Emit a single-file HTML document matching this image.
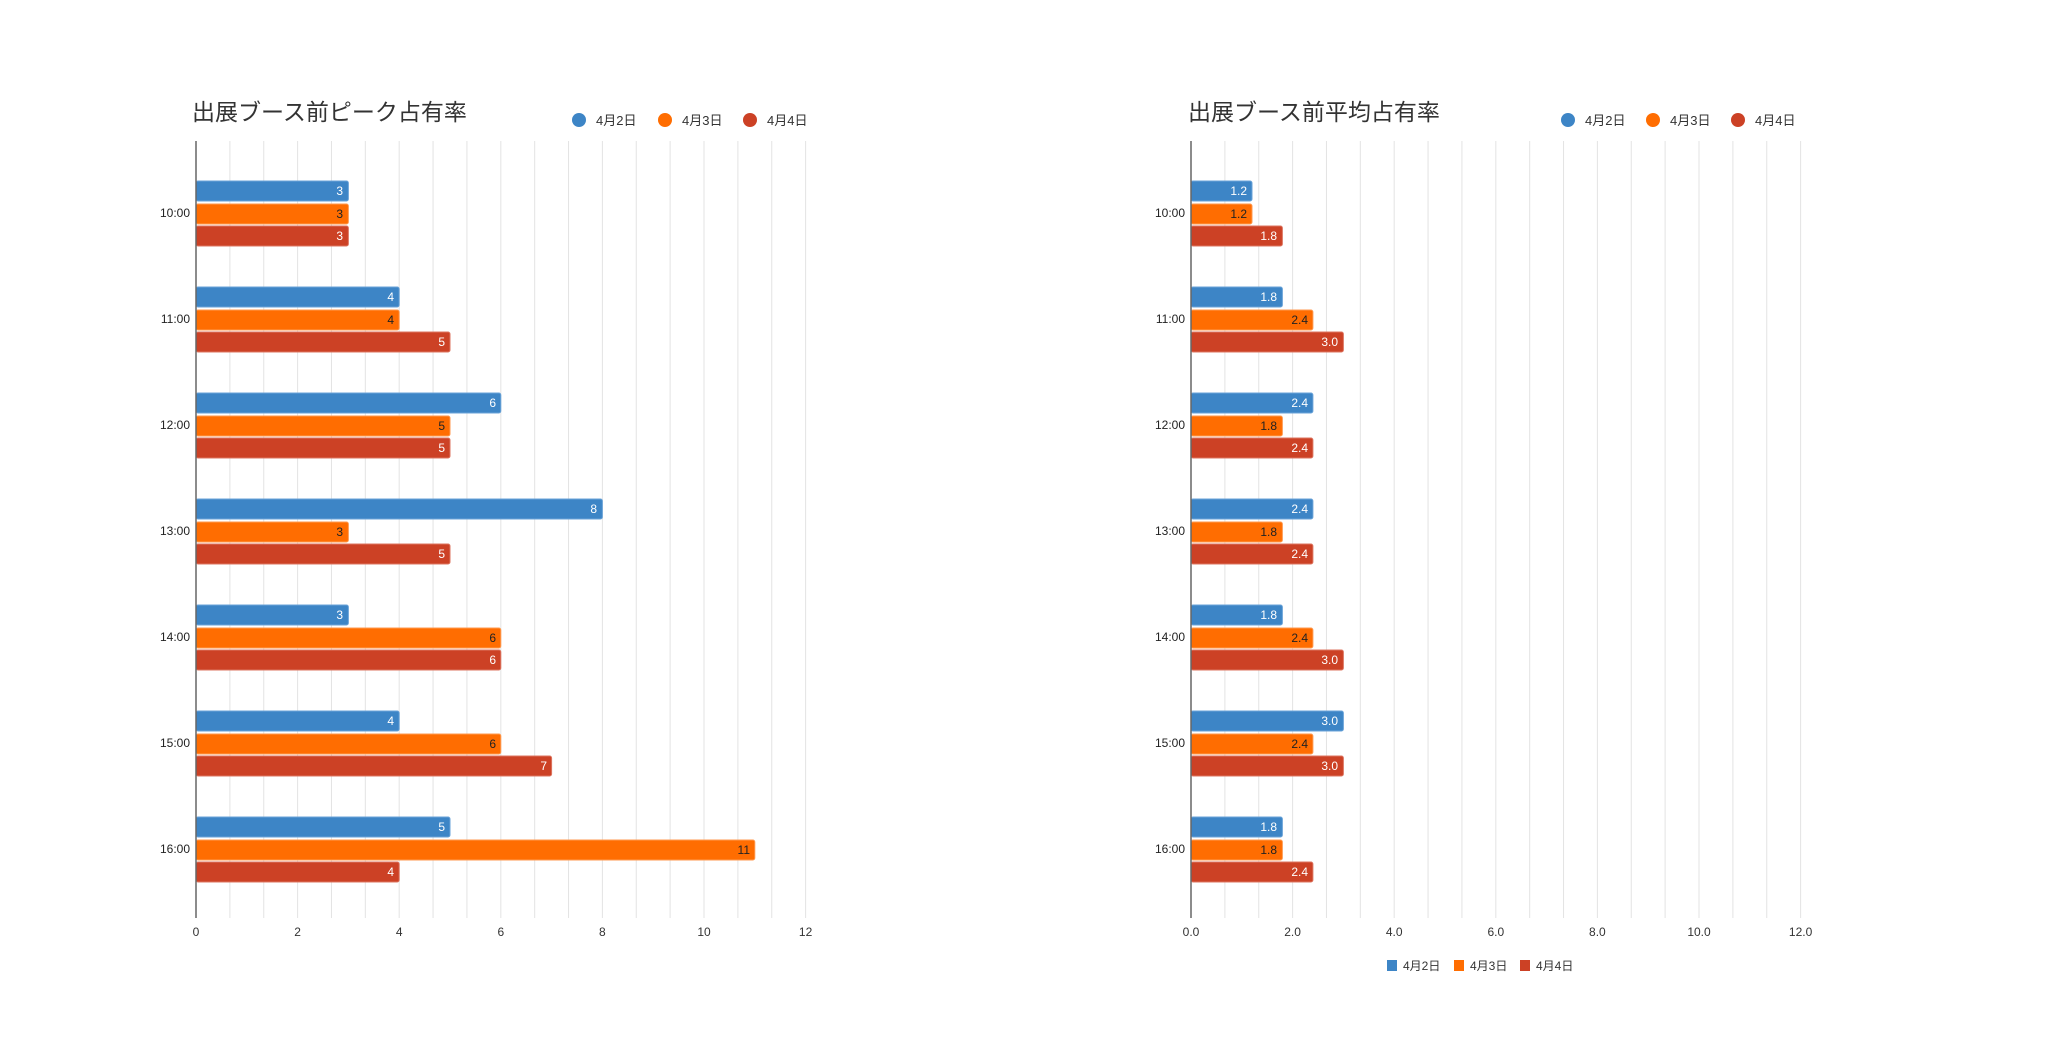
<!DOCTYPE html>
<html><head><meta charset="utf-8"><style>
html,body{margin:0;padding:0;background:#fff;}
svg{display:block;font-family:"Liberation Sans","Noto Sans CJK JP",sans-serif;}
.t{font-size:23px;fill:#333;}
.lg{font-size:13px;fill:#333;}
.cat{font-size:12px;fill:#222;text-anchor:end;}
.tk{font-size:12px;fill:#333;text-anchor:middle;}
.w{font-size:12px;fill:#fff;text-anchor:end;}
.d{font-size:12px;fill:#222;text-anchor:end;}
.b{fill:#3d85c6;stroke:#6aa3d8;stroke-width:1}
.o{fill:#ff6d01;stroke:#ff9a50;stroke-width:1}
.r{fill:#cc4125;stroke:#dd7560;stroke-width:1}
.g{stroke:#e3e3e3;stroke-width:1}
</style></head><body>
<svg width="2048" height="1054" viewBox="0 0 2048 1054">
<defs>
<g id="grid">
<line class="g" x1="33.87" y1="141" x2="33.87" y2="918"/><line class="g" x1="67.73" y1="141" x2="67.73" y2="918"/><line class="g" x1="101.6" y1="141" x2="101.6" y2="918"/><line class="g" x1="135.47" y1="141" x2="135.47" y2="918"/><line class="g" x1="169.33" y1="141" x2="169.33" y2="918"/><line class="g" x1="203.2" y1="141" x2="203.2" y2="918"/><line class="g" x1="237.07" y1="141" x2="237.07" y2="918"/><line class="g" x1="270.93" y1="141" x2="270.93" y2="918"/><line class="g" x1="304.8" y1="141" x2="304.8" y2="918"/><line class="g" x1="338.67" y1="141" x2="338.67" y2="918"/><line class="g" x1="372.53" y1="141" x2="372.53" y2="918"/><line class="g" x1="406.4" y1="141" x2="406.4" y2="918"/><line class="g" x1="440.27" y1="141" x2="440.27" y2="918"/><line class="g" x1="474.13" y1="141" x2="474.13" y2="918"/><line class="g" x1="508" y1="141" x2="508" y2="918"/><line class="g" x1="541.87" y1="141" x2="541.87" y2="918"/><line class="g" x1="575.73" y1="141" x2="575.73" y2="918"/><line class="g" x1="609.6" y1="141" x2="609.6" y2="918"/>
</g>
</defs>

<text class="t" x="192" y="120">出展ブース前ピーク占有率</text>
<circle cx="579" cy="120" r="7" fill="#3d85c6"/><text class="lg" x="596" y="125">4月2日</text>
<circle cx="665" cy="120" r="7" fill="#ff6d01"/><text class="lg" x="682" y="125">4月3日</text>
<circle cx="750" cy="120" r="7" fill="#cc4125"/><text class="lg" x="767" y="125">4月4日</text>
<use href="#grid" x="196"/>

<g transform="translate(196,213)">
<rect class="b" x="0" y="-32" width="152.4" height="20" rx="2"/><text class="w" x="147" y="-18">3</text>
<rect class="o" x="0" y="-9" width="152.4" height="20" rx="2"/><text class="d" x="147" y="5">3</text>
<rect class="r" x="0" y="13" width="152.4" height="20" rx="2"/><text class="w" x="147" y="27">3</text>
</g>
<g transform="translate(196,319)">
<rect class="b" x="0" y="-32" width="203.2" height="20" rx="2"/><text class="w" x="198" y="-18">4</text>
<rect class="o" x="0" y="-9" width="203.2" height="20" rx="2"/><text class="d" x="198" y="5">4</text>
<rect class="r" x="0" y="13" width="254" height="20" rx="2"/><text class="w" x="249" y="27">5</text>
</g>
<g transform="translate(196,425)">
<rect class="b" x="0" y="-32" width="304.8" height="20" rx="2"/><text class="w" x="300" y="-18">6</text>
<rect class="o" x="0" y="-9" width="254" height="20" rx="2"/><text class="d" x="249" y="5">5</text>
<rect class="r" x="0" y="13" width="254" height="20" rx="2"/><text class="w" x="249" y="27">5</text>
</g>
<g transform="translate(196,531)">
<rect class="b" x="0" y="-32" width="406.4" height="20" rx="2"/><text class="w" x="401" y="-18">8</text>
<rect class="o" x="0" y="-9" width="152.4" height="20" rx="2"/><text class="d" x="147" y="5">3</text>
<rect class="r" x="0" y="13" width="254" height="20" rx="2"/><text class="w" x="249" y="27">5</text>
</g>
<g transform="translate(196,637)">
<rect class="b" x="0" y="-32" width="152.4" height="20" rx="2"/><text class="w" x="147" y="-18">3</text>
<rect class="o" x="0" y="-9" width="304.8" height="20" rx="2"/><text class="d" x="300" y="5">6</text>
<rect class="r" x="0" y="13" width="304.8" height="20" rx="2"/><text class="w" x="300" y="27">6</text>
</g>
<g transform="translate(196,743)">
<rect class="b" x="0" y="-32" width="203.2" height="20" rx="2"/><text class="w" x="198" y="-18">4</text>
<rect class="o" x="0" y="-9" width="304.8" height="20" rx="2"/><text class="d" x="300" y="5">6</text>
<rect class="r" x="0" y="13" width="355.6" height="20" rx="2"/><text class="w" x="351" y="27">7</text>
</g>
<g transform="translate(196,849)">
<rect class="b" x="0" y="-32" width="254" height="20" rx="2"/><text class="w" x="249" y="-18">5</text>
<rect class="o" x="0" y="-9" width="558.8" height="20" rx="2"/><text class="d" x="554" y="5">11</text>
<rect class="r" x="0" y="13" width="203.2" height="20" rx="2"/><text class="w" x="198" y="27">4</text>
</g>
<line x1="196" y1="141" x2="196" y2="918" stroke="#666" stroke-width="1.5"/>
<text class="cat" x="190" y="217">10:00</text><text class="cat" x="190" y="323">11:00</text><text class="cat" x="190" y="429">12:00</text><text class="cat" x="190" y="535">13:00</text><text class="cat" x="190" y="641">14:00</text><text class="cat" x="190" y="747">15:00</text><text class="cat" x="190" y="853">16:00</text>
<text class="tk" x="196" y="936">0</text><text class="tk" x="297.6" y="936">2</text><text class="tk" x="399.2" y="936">4</text><text class="tk" x="500.8" y="936">6</text><text class="tk" x="602.4" y="936">8</text><text class="tk" x="704" y="936">10</text><text class="tk" x="805.6" y="936">12</text>

<text class="t" x="1188" y="120">出展ブース前平均占有率</text>
<circle cx="1568" cy="120" r="7" fill="#3d85c6"/><text class="lg" x="1585" y="125">4月2日</text>
<circle cx="1653" cy="120" r="7" fill="#ff6d01"/><text class="lg" x="1670" y="125">4月3日</text>
<circle cx="1738" cy="120" r="7" fill="#cc4125"/><text class="lg" x="1755" y="125">4月4日</text>
<use href="#grid" x="1191"/>

<g transform="translate(1191,213)">
<rect class="b" x="0" y="-32" width="61" height="20" rx="2"/><text class="w" x="56" y="-18">1.2</text>
<rect class="o" x="0" y="-9" width="61" height="20" rx="2"/><text class="d" x="56" y="5">1.2</text>
<rect class="r" x="0" y="13" width="91.4" height="20" rx="2"/><text class="w" x="86" y="27">1.8</text>
</g>
<g transform="translate(1191,319)">
<rect class="b" x="0" y="-32" width="91.4" height="20" rx="2"/><text class="w" x="86" y="-18">1.8</text>
<rect class="o" x="0" y="-9" width="121.9" height="20" rx="2"/><text class="d" x="117" y="5">2.4</text>
<rect class="r" x="0" y="13" width="152.4" height="20" rx="2"/><text class="w" x="147" y="27">3.0</text>
</g>
<g transform="translate(1191,425)">
<rect class="b" x="0" y="-32" width="121.9" height="20" rx="2"/><text class="w" x="117" y="-18">2.4</text>
<rect class="o" x="0" y="-9" width="91.4" height="20" rx="2"/><text class="d" x="86" y="5">1.8</text>
<rect class="r" x="0" y="13" width="121.9" height="20" rx="2"/><text class="w" x="117" y="27">2.4</text>
</g>
<g transform="translate(1191,531)">
<rect class="b" x="0" y="-32" width="121.9" height="20" rx="2"/><text class="w" x="117" y="-18">2.4</text>
<rect class="o" x="0" y="-9" width="91.4" height="20" rx="2"/><text class="d" x="86" y="5">1.8</text>
<rect class="r" x="0" y="13" width="121.9" height="20" rx="2"/><text class="w" x="117" y="27">2.4</text>
</g>
<g transform="translate(1191,637)">
<rect class="b" x="0" y="-32" width="91.4" height="20" rx="2"/><text class="w" x="86" y="-18">1.8</text>
<rect class="o" x="0" y="-9" width="121.9" height="20" rx="2"/><text class="d" x="117" y="5">2.4</text>
<rect class="r" x="0" y="13" width="152.4" height="20" rx="2"/><text class="w" x="147" y="27">3.0</text>
</g>
<g transform="translate(1191,743)">
<rect class="b" x="0" y="-32" width="152.4" height="20" rx="2"/><text class="w" x="147" y="-18">3.0</text>
<rect class="o" x="0" y="-9" width="121.9" height="20" rx="2"/><text class="d" x="117" y="5">2.4</text>
<rect class="r" x="0" y="13" width="152.4" height="20" rx="2"/><text class="w" x="147" y="27">3.0</text>
</g>
<g transform="translate(1191,849)">
<rect class="b" x="0" y="-32" width="91.4" height="20" rx="2"/><text class="w" x="86" y="-18">1.8</text>
<rect class="o" x="0" y="-9" width="91.4" height="20" rx="2"/><text class="d" x="86" y="5">1.8</text>
<rect class="r" x="0" y="13" width="121.9" height="20" rx="2"/><text class="w" x="117" y="27">2.4</text>
</g>
<line x1="1191" y1="141" x2="1191" y2="918" stroke="#666" stroke-width="1.5"/>
<text class="cat" x="1185" y="217">10:00</text><text class="cat" x="1185" y="323">11:00</text><text class="cat" x="1185" y="429">12:00</text><text class="cat" x="1185" y="535">13:00</text><text class="cat" x="1185" y="641">14:00</text><text class="cat" x="1185" y="747">15:00</text><text class="cat" x="1185" y="853">16:00</text>
<text class="tk" x="1191" y="936">0.0</text><text class="tk" x="1292.6" y="936">2.0</text><text class="tk" x="1394.2" y="936">4.0</text><text class="tk" x="1495.8" y="936">6.0</text><text class="tk" x="1597.4" y="936">8.0</text><text class="tk" x="1699" y="936">10.0</text><text class="tk" x="1800.6" y="936">12.0</text>

<rect x="1387" y="960" width="10" height="11" fill="#3d85c6"/><text class="lg" x="1403" y="970" style="font-size:12px">4月2日</text>
<rect x="1454" y="960" width="10" height="11" fill="#ff6d01"/><text class="lg" x="1470" y="970" style="font-size:12px">4月3日</text>
<rect x="1520" y="960" width="10" height="11" fill="#cc4125"/><text class="lg" x="1536" y="970" style="font-size:12px">4月4日</text>
</svg>
</body></html>
